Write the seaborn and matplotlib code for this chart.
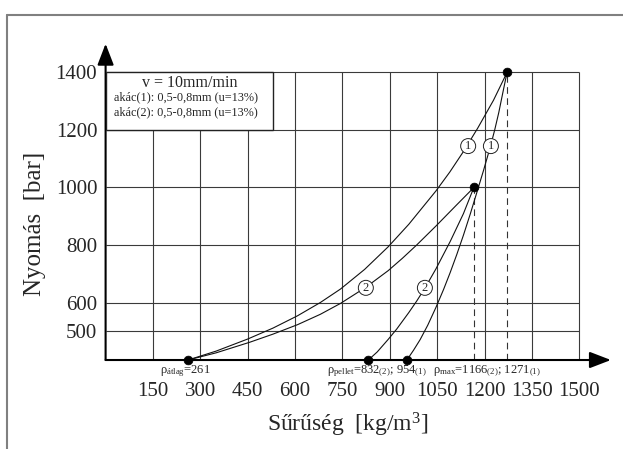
import numpy as np
import pandas as pd
import matplotlib
matplotlib.use("Agg")
import matplotlib.pyplot as plt
from matplotlib.lines import Line2D
from matplotlib.patches import Rectangle
import seaborn as sns

# ---------------------------------------------
# data (density kg/m3, pressure bar)
# ---------------------------------------------
# akac(1): rho_atlag -> rho_max(1)
curve1a_x = [261, 350, 450, 530, 608, 680, 744, 820, 895, 960, 1046, 1090, 1133,
             1178, 1228, 1271]
curve1a_y = [400, 431, 473, 511, 554, 600, 647, 715, 794, 872, 988, 1054, 1125,
             1206, 1303, 1400]
# akac(1): rho_pellet(1) -> rho_max(1)
curve1b_x = [954, 975, 996, 1020, 1046, 1070, 1091, 1112, 1133, 1155, 1175, 1196,
             1217, 1232, 1245, 1258, 1271]
curve1b_y = [400, 434, 471, 521, 583, 645, 704, 767, 834, 909, 981, 1057,
             1137, 1200, 1261, 1331, 1400]
# akac(2): rho_atlag -> rho_max(2)
curve2a_x = [261, 350, 457, 530, 608, 680, 744, 824, 895, 940, 985, 1046, 1112, 1166]
curve2a_y = [400, 425, 462, 490, 523, 559, 597, 653, 711, 754, 800, 866, 940, 1000]
# akac(2): rho_pellet(2) -> rho_max(2)
curve2b_x = [832, 860, 895, 922, 960, 985, 1011, 1046, 1091, 1133, 1166]
curve2b_y = [400, 428, 472, 508, 565, 605, 650, 717, 812, 909, 1000]

end_x = [261, 832, 954, 1166, 1271]
end_y = [400, 400, 400, 1000, 1400]

rho_max = [1166, 1271]
p_max = [1000, 1400]

label_x = [1148, 1220, 824, 1011]
label_y = [1144, 1144, 651, 651]
label_txt = ["1", "1", "2", "2"]

x_ticks = [150, 300, 450, 600, 750, 900, 1050, 1200, 1350, 1500]
y_ticks = [500, 600, 800, 1000, 1200, 1400]

sns.set_style("white")
plt.rcParams["font.family"] = ["Liberation Serif", "DejaVu Serif"]
plt.rcParams["mathtext.fontset"] = "custom"
plt.rcParams["mathtext.rm"] = "Liberation Serif"
plt.rcParams["mathtext.it"] = "Liberation Serif"

fig = plt.figure(figsize=(6.23, 4.49), dpi=100)
ax = fig.add_axes([0.1695, 0.1982, 0.8111, 0.7044])
ax.set_xlim(0, 1600)
ax.set_ylim(400, 1500)

# grid (stops at 1500 / 1400 like the original)
grid_c = "#3a3a3a"
ax.vlines(x_ticks, 400, 1400, color=grid_c, lw=0.8, zorder=1)
ax.hlines(y_ticks, 0, 1500, color=grid_c, lw=0.8, zorder=1)

# dashed drop lines at rho_max
ax.vlines(rho_max, 400, p_max, color="#333333", lw=0.8, linestyles=(0, (6, 4)), zorder=2)

# curves
for cx, cy in [(curve1a_x, curve1a_y), (curve1b_x, curve1b_y),
               (curve2a_x, curve2a_y), (curve2b_x, curve2b_y)]:
    df = pd.DataFrame({"rho": cx, "p": cy})
    sns.lineplot(data=df, x="rho", y="p", ax=ax, color="#111111", lw=0.8,
                 estimator=None, sort=False, zorder=3)

sns.scatterplot(x=end_x, y=end_y, ax=ax, color="black", s=40, edgecolor="black",
                zorder=5, clip_on=False)

# circled curve labels
for lx, ly, t in zip(label_x, label_y, label_txt):
    ax.text(lx, ly, t, ha="center", va="center", fontsize=9, zorder=6,
            bbox=dict(boxstyle="circle,pad=0.12", fc="white", ec="#222222", lw=0.7))

# info box
ax.add_patch(Rectangle((0, 1200), 530, 200, fc="white", ec="#222222", lw=1.0, zorder=4))
ax.text(265, 1365, "v = 10mm/min", ha="center", va="center", fontsize=11.5, zorder=5)
ax.text(28, 1312, "akác(1): 0,5-0,8mm (u=13%)", ha="left", va="center", fontsize=8.8, zorder=5)
ax.text(28, 1260, "akác(2): 0,5-0,8mm (u=13%)", ha="left", va="center", fontsize=8.8, zorder=5)

# axes with arrow heads
sns.despine(ax=ax, left=True, bottom=True)
arrow = dict(arrowstyle="-|>,head_length=1.3,head_width=0.5", color="black",
             lw=1.5, shrinkA=0, shrinkB=0, mutation_scale=10)
ax.annotate("", xy=(0, 1.0), xytext=(0, 0), xycoords="axes fraction", arrowprops=arrow)
ax.annotate("", xy=(1.0, 0), xytext=(0, 0), xycoords="axes fraction", arrowprops=arrow)

ax.set_xticks(x_ticks)
ax.set_yticks(y_ticks)
ax.tick_params(axis="both", length=0, labelsize=15)
ax.tick_params(axis="x", pad=16)
ax.tick_params(axis="y", pad=6)

ax.set_xlabel("Sűrűség  [kg/m$^3$]", fontsize=17)
ax.set_ylabel("Nyomás  [bar]", fontsize=18)
ax.xaxis.set_label_coords(0.48, -0.16)
ax.yaxis.set_label_coords(-0.118, 0.43)

# density annotations under the x axis
ann_kw = dict(ha="center", va="center", fontsize=9, xycoords=("data", "axes fraction"))
ax.annotate("ρ$_{\\mathrm{átlag}}$=261", xy=(251, -0.036), **ann_kw)
ax.annotate("ρ$_{\\mathrm{pellet}}$=832$_{(2)}$; 954$_{(1)}$", xy=(860, -0.036), **ann_kw)
ax.annotate("ρ$_{\\mathrm{max}}$=1166$_{(2)}$; 1271$_{(1)}$", xy=(1208, -0.036), **ann_kw)

# page frame lines (left and top)
fig.add_artist(Line2D([7 / 623, 7 / 623], [0, 1 - 15 / 449], color="#808080", lw=1.5))
fig.add_artist(Line2D([7 / 623, 1], [1 - 15 / 449, 1 - 15 / 449], color="#808080", lw=1.5))

fig.savefig("out.png", dpi=100)
